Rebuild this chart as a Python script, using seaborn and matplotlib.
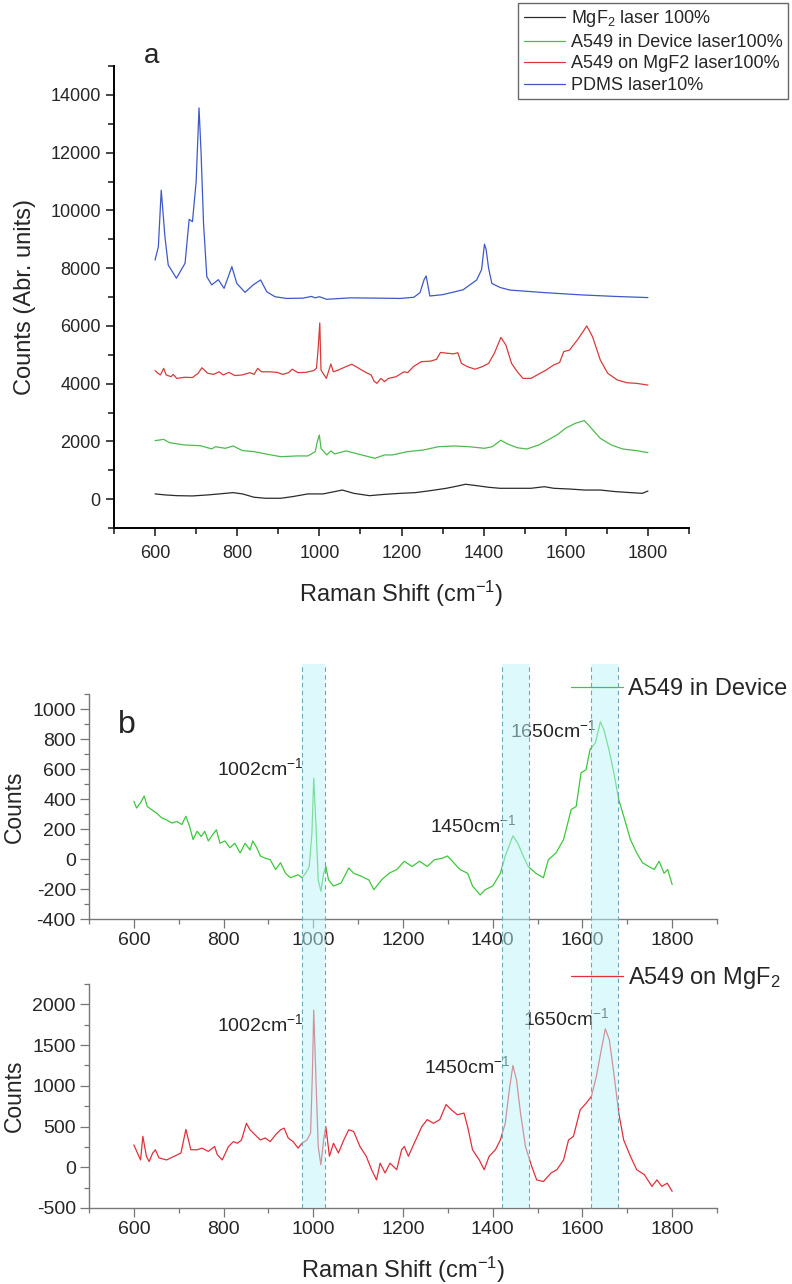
import numpy as np
import pandas as pd
import matplotlib
matplotlib.use("Agg")
import matplotlib.pyplot as plt
import seaborn as sns
from matplotlib.ticker import MultipleLocator
from matplotlib.patches import Rectangle
from matplotlib.lines import Line2D
from matplotlib.transforms import blended_transform_factory

# ---------------- data ----------------
# Panel a: PDMS laser10%
pdms_x = [600, 608, 615, 624, 632, 652, 673, 683, 691, 700, 707, 712, 718, 726, 738, 754, 768, 787,
          799, 819, 839, 857, 872, 892, 920, 960, 981, 990, 1000, 1018, 1075, 1150, 1196, 1230,
          1245, 1255, 1260, 1265, 1269, 1300, 1350, 1383, 1395, 1402, 1406, 1412, 1420, 1440,
          1464, 1550, 1642, 1720, 1800]
pdms_y = [8280, 8740, 10700, 9090, 8110, 7650, 8170, 9690, 9610, 11000, 13550, 12000, 9550, 7700, 7420,
          7600, 7300, 8050, 7470, 7160, 7420, 7590, 7180, 7010, 6950, 6960, 7020, 6970, 7010, 6920,
          6970, 6960, 6950, 6990, 7150, 7600, 7730, 7350, 7035, 7080, 7250, 7590, 7950, 8830, 8650,
          8000, 7470, 7330, 7240, 7150, 7070, 7020, 6980]

# Panel a: A549 on MgF2 laser100%
rmg_x = [600, 607, 613, 621, 627, 639, 644, 653, 672, 691, 705, 714, 728, 742, 756, 766, 780, 794,
         812, 831, 841, 850, 859, 878, 897, 911, 925, 934, 948, 967, 986, 993, 997, 1001, 1004,
         1017, 1028, 1034, 1046, 1065, 1079, 1089, 1103, 1117, 1126, 1133, 1140, 1150, 1159, 1168,
         1187, 1206, 1215, 1229, 1248, 1271, 1285, 1295, 1313, 1327, 1337, 1346, 1360, 1379, 1397,
         1412, 1426, 1442, 1454, 1468, 1482, 1496, 1515, 1534, 1552, 1571, 1585, 1595, 1609, 1628,
         1642, 1651, 1665, 1684, 1702, 1725, 1749, 1772, 1800]
rmg_y = [4450, 4360, 4300, 4530, 4300, 4240, 4320, 4180, 4220, 4210, 4360, 4550, 4360, 4320, 4410,
         4300, 4390, 4280, 4300, 4380, 4320, 4530, 4410, 4410, 4390, 4320, 4380, 4500, 4380, 4390,
         4450, 4530, 5200, 6100, 4470, 4180, 4680, 4410, 4470, 4590, 4670, 4590, 4470, 4360, 4300,
         4090, 4010, 4180, 4070, 4180, 4240, 4410, 4380, 4590, 4760, 4780, 4840, 5080, 5050, 5030,
         5070, 4700, 4590, 4500, 4590, 4700, 5050, 5600, 5340, 4700, 4410, 4180, 4180, 4330, 4470,
         4650, 4730, 5110, 5160, 5510, 5800, 6000, 5630, 4820, 4360, 4130, 4030, 4010, 3950]

# Panel a: A549 in Device laser100%
gdev_x = [600, 621, 635, 672, 710, 738, 747, 771, 790, 813, 841, 869, 906, 944, 972, 990, 995,
          1000, 1004, 1018, 1028, 1037, 1065, 1103, 1135, 1159, 1178, 1215, 1253, 1290, 1328,
          1365, 1402, 1421, 1442, 1458, 1482, 1505, 1534, 1557, 1581, 1599, 1623, 1645, 1655,
          1684, 1711, 1739, 1772, 1800]
gdev_y = [2025, 2070, 1955, 1875, 1850, 1740, 1815, 1760, 1840, 1680, 1645, 1565, 1470, 1495, 1495,
          1645, 1990, 2220, 1760, 1530, 1670, 1565, 1670, 1530, 1415, 1530, 1530, 1645, 1700, 1815,
          1840, 1815, 1760, 1815, 2040, 1910, 1780, 1735, 1875, 2050, 2245, 2450, 2625, 2720, 2570,
          2105, 1875, 1735, 1680, 1610]

# Panel a: MgF2 laser 100%
mgf_x = [600, 625, 653, 691, 728, 756, 790, 813, 841, 869, 906, 934, 972, 1009, 1037, 1056, 1084,
         1122, 1159, 1197, 1234, 1271, 1309, 1337, 1356, 1384, 1412, 1440, 1477, 1515, 1548, 1571,
         1609, 1646, 1684, 1721, 1758, 1786, 1800]
mgf_y = [180, 145, 120, 110, 145, 180, 225, 180, 65, 30, 30, 85, 180, 180, 260, 315, 200, 120, 165,
         200, 225, 295, 375, 455, 515, 465, 410, 375, 375, 375, 430, 375, 350, 315, 315, 260, 225,
         200, 280]

# Panel b (top): A549 in Device (background subtracted)
bdev_x = [600, 606, 615, 623, 630, 639, 651, 662, 673, 685, 696, 707, 716, 724, 732, 741, 750, 758,
          766, 775, 784, 792, 803, 814, 825, 837, 848, 859, 865, 874, 882, 893, 904, 916, 927, 938,
          949, 966, 975, 983, 991, 997, 1001, 1006, 1011, 1017, 1023, 1028, 1034, 1045, 1062, 1079,
          1090, 1107, 1124, 1135, 1152, 1169, 1186, 1203, 1220, 1237, 1254, 1270, 1287, 1299, 1310,
          1327, 1344, 1355, 1372, 1383, 1400, 1417, 1428, 1445, 1456, 1468, 1479, 1496, 1513, 1524,
          1541, 1558, 1575, 1586, 1597, 1608, 1617, 1629, 1640, 1648, 1659, 1670, 1681, 1692, 1707,
          1721, 1734, 1748, 1760, 1771, 1782, 1790, 1800]
bdev_y = [385, 340, 375, 420, 350, 330, 305, 275, 260, 240, 250, 230, 285, 220, 130, 185, 150, 185,
          120, 160, 195, 105, 120, 75, 105, 40, 105, 60, 120, 75, 20, 5, -5, -70, -25, -95, -125,
          -105, -125, -95, -50, 175, 540, 220, -140, -215, -95, -50, -140, -180, -160, -60, -95,
          -115, -140, -205, -140, -95, -70, -15, -50, -15, -50, -5, 5, 20, -15, -70, -95, -180,
          -240, -205, -180, -95, 20, 155, 105, 20, -50, -95, -125, -5, 40, 130, 330, 350, 575, 595,
          730, 775, 915, 860, 730, 575, 395, 285, 130, 40, -25, -50, -70, -15, -95, -70, -170]

# Panel b (bottom): A549 on MgF2 (background subtracted)
bmg_x = [600, 608, 615, 620, 628, 634, 642, 648, 656, 673, 690, 705, 716, 727, 741, 752, 766, 780,
         786, 797, 811, 822, 831, 840, 851, 859, 870, 882, 893, 904, 916, 927, 935, 944, 955, 966,
         975, 986, 994, 998, 1001, 1006, 1011, 1017, 1023, 1028, 1036, 1045, 1056, 1068, 1079, 1090,
         1104, 1118, 1130, 1141, 1149, 1160, 1171, 1186, 1197, 1203, 1212, 1225, 1242, 1254, 1268,
         1282, 1296, 1308, 1321, 1336, 1344, 1355, 1370, 1381, 1392, 1406, 1417, 1428, 1437, 1445,
         1453, 1462, 1473, 1487, 1498, 1513, 1530, 1543, 1558, 1569, 1580, 1595, 1608, 1620, 1631,
         1642, 1651, 1660, 1670, 1681, 1692, 1707, 1721, 1738, 1755, 1766, 1777, 1789, 1800]
bmg_y = [275, 175, 90, 380, 135, 70, 175, 215, 115, 90, 135, 175, 465, 215, 215, 235, 195, 255,
         155, 90, 255, 315, 295, 335, 540, 460, 400, 335, 360, 315, 400, 460, 480, 360, 315, 235,
         295, 335, 420, 1150, 1930, 1075, 255, 30, 335, 500, 135, 295, 175, 335, 460, 440, 255, 135,
         -30, -155, 50, -70, 50, -30, 215, 255, 135, 295, 500, 585, 540, 585, 770, 705, 645, 665,
         500, 215, 90, -30, 135, 215, 335, 540, 950, 1250, 1075, 665, 255, 10, -155, -175, -70,
         -30, 90, 335, 380, 705, 785, 870, 1115, 1440, 1700, 1565, 1155, 665, 335, 135, -30, -90,
         -235, -155, -235, -195, -295]

labels_a = ["MgF$_2$ laser 100%", "A549 in Device laser100%", "A549 on MgF2 laser100%", "PDMS laser10%"]
label_b1 = "A549 in Device"
label_b2 = "A549 on MgF$_2$"
band_ranges = [(975, 1025), (1420, 1480), (1620, 1680)]

# ---------------- style ----------------
sns.set_style("ticks")
plt.rcParams["font.family"] = ["Liberation Sans", "DejaVu Sans"]
plt.rcParams["mathtext.fontset"] = "custom"
plt.rcParams["mathtext.rm"] = "Liberation Sans"
plt.rcParams["mathtext.it"] = "Liberation Sans:italic"
plt.rcParams["mathtext.bf"] = "Liberation Sans:bold"
plt.rcParams["axes.unicode_minus"] = False

W, H = 792, 1284
fig = plt.figure(figsize=(W / 100, H / 100), dpi=100)

def rect(l, t, r, b):
    return [l / W, 1 - b / H, (r - l) / W, (b - t) / H]

ax_a = fig.add_axes(rect(114, 66, 689, 528))
ax_b1 = fig.add_axes(rect(89, 694, 717, 919))
ax_b2 = fig.add_axes(rect(89, 984, 717, 1208))

c_black, c_green, c_red, c_blue = "#2b2b2b", "#4dbb4d", "#d93a3a", "#3f58c9"
lw = 0.9
sns.lineplot(x=mgf_x, y=mgf_y, ax=ax_a, color=c_black, lw=lw, label=labels_a[0], estimator=None, sort=False)
sns.lineplot(x=gdev_x, y=gdev_y, ax=ax_a, color=c_green, lw=lw, label=labels_a[1], estimator=None, sort=False)
sns.lineplot(x=rmg_x, y=rmg_y, ax=ax_a, color=c_red, lw=lw, label=labels_a[2], estimator=None, sort=False)
sns.lineplot(x=pdms_x, y=pdms_y, ax=ax_a, color=c_blue, lw=lw, label=labels_a[3], estimator=None, sort=False)

sns.lineplot(x=bdev_x, y=bdev_y, ax=ax_b1, color="#3cc83c", lw=lw, label=label_b1, estimator=None, sort=False)
sns.lineplot(x=bmg_x, y=bmg_y, ax=ax_b2, color="#e0303c", lw=lw, label=label_b2, estimator=None, sort=False)

# ---------------- panel a axes ----------------
ax_a.set_xlim(500, 1900)
ax_a.set_ylim(-1000, 15000)
ax_a.xaxis.set_major_locator(MultipleLocator(200))
ax_a.xaxis.set_minor_locator(MultipleLocator(100))
ax_a.yaxis.set_major_locator(MultipleLocator(2000))
ax_a.yaxis.set_minor_locator(MultipleLocator(1000))
for s in ["top", "right"]:
    ax_a.spines[s].set_visible(False)
for s in ["left", "bottom"]:
    ax_a.spines[s].set_linewidth(1.4)
    ax_a.spines[s].set_color("black")
ax_a.tick_params(axis="both", which="major", direction="out", length=5.5, width=1.2, labelsize=13, pad=4)
ax_a.tick_params(axis="x", which="major", pad=7)
ax_a.tick_params(axis="both", which="minor", direction="out", length=4, width=1.2)
ax_a.set_xlabel("Raman Shift (cm$^{-1}$)", fontsize=17, labelpad=12)
ax_a.set_ylabel("Counts (Abr. units)", fontsize=17, labelpad=12)
ax_a.yaxis.set_label_coords(-0.135, 0.5)
ax_a.text(152 / W, 1 - 56 / H, "a", transform=fig.transFigure, fontsize=20, ha="center", va="center")
ax_a.legend_.remove()
h, l = ax_a.get_legend_handles_labels()
leg = fig.legend(h, l, loc="upper right", bbox_to_anchor=(788 / W, 1 - 3 / H), frameon=True,
                 fancybox=False, fontsize=13, handlelength=2.3, handletextpad=0.3, labelspacing=0.25,
                 borderpad=0.3, borderaxespad=0)
leg.get_frame().set_edgecolor("#444444")
leg.get_frame().set_linewidth(1.0)

# ---------------- panel b axes ----------------
def style_b(ax, ylim, major, minor):
    ax.set_xlim(500, 1900)
    ax.set_ylim(*ylim)
    ax.xaxis.set_major_locator(MultipleLocator(200))
    ax.xaxis.set_minor_locator(MultipleLocator(100))
    ax.yaxis.set_major_locator(MultipleLocator(major))
    ax.yaxis.set_minor_locator(MultipleLocator(minor))
    for s in ["top", "right"]:
        ax.spines[s].set_visible(False)
    for s in ["left", "bottom"]:
        ax.spines[s].set_linewidth(1.0)
        ax.spines[s].set_color("#777777")
    ax.tick_params(axis="both", which="major", direction="out", length=6.5, width=0.9,
                   color="#777777", labelsize=14, pad=3)
    ax.tick_params(axis="both", which="minor", direction="out", length=3.5, width=0.9, color="#777777")
    ax.set_ylabel("Counts", fontsize=16.5)
    ax.yaxis.set_label_coords(-0.100, 0.5)

style_b(ax_b1, (-400, 1100), 200, 100)
style_b(ax_b2, (-500, 2250), 500, 250)
ax_b1.set_xlabel("")
ax_b2.set_xlabel("Raman Shift (cm$^{-1}$)", fontsize=17, labelpad=12)
ax_b1.text(127 / W, 1 - 725 / H, "b", transform=fig.transFigure, fontsize=23, ha="center", va="center")

ax_b1.legend_.remove()
ax_b2.legend_.remove()
for ax, y_px in [(ax_b1, 689), (ax_b2, 978)]:
    hh, ll = ax.get_legend_handles_labels()
    fig.legend(hh, ll, loc="center left", bbox_to_anchor=(571 / W, 1 - y_px / H), frameon=False,
               fontsize=17, handlelength=2.2, handletextpad=0.2, borderpad=0, borderaxespad=0)

ann_fs = 14
ax_b1.text(977, 556, "1002cm$^{-1}$", fontsize=ann_fs, ha="right", va="baseline")
ax_b1.text(1452, 180, "1450cm$^{-1}$", fontsize=ann_fs, ha="right", va="baseline")
ax_b1.text(1632, 813, "1650cm$^{-1}$", fontsize=ann_fs, ha="right", va="baseline")
ax_b2.text(977, 1669, "1002cm$^{-1}$", fontsize=ann_fs, ha="right", va="baseline")
ax_b2.text(1440, 1155, "1450cm$^{-1}$", fontsize=ann_fs, ha="right", va="baseline")
ax_b2.text(1660, 1743, "1650cm$^{-1}$", fontsize=ann_fs, ha="right", va="baseline")

# ---------------- highlighted bands across both b panels ----------------
tr = blended_transform_factory(ax_b2.transData, fig.transFigure)
y_top = 1 - 664 / H
y_bot = 1 - 1208 / H
for x0, x1 in band_ranges:
    fig.add_artist(Rectangle((x0, y_bot), x1 - x0, y_top - y_bot, transform=tr,
                             facecolor="#bff5fb", alpha=0.5, edgecolor="none", zorder=5))
    for xe in (x0, x1):
        fig.add_artist(Line2D([xe, xe], [y_bot, y_top], transform=tr, color="#6fa6b3",
                              lw=0.8, ls=(0, (4, 3)), zorder=6))

fig.savefig("out.png", dpi=100)
